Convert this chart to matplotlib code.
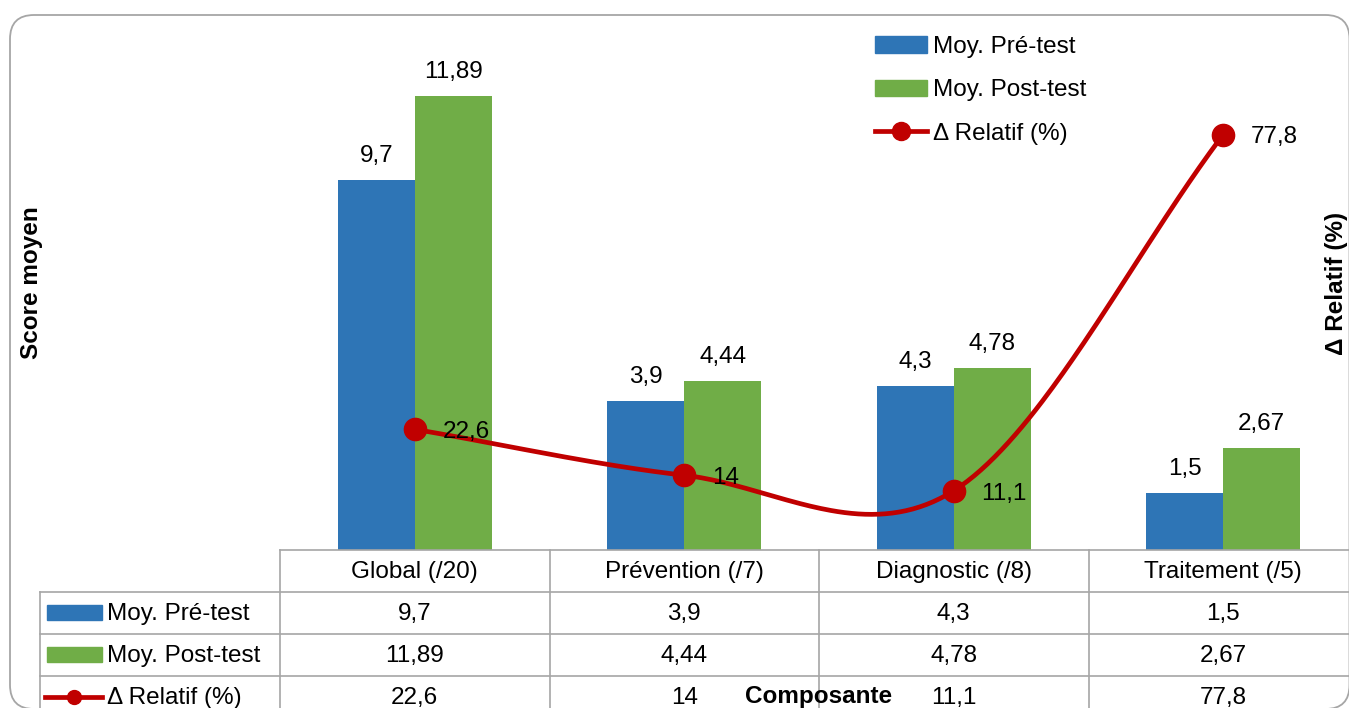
import numpy as np
import matplotlib.pyplot as plt
from matplotlib.patches import Patch, Rectangle, FancyBboxPatch
from matplotlib.lines import Line2D
from matplotlib.transforms import IdentityTransform

# Scores per component and relative gain
categories = ['Global (/20)', 'Prévention (/7)', 'Diagnostic (/8)', 'Traitement (/5)']
pre_test = [9.7, 3.9, 4.3, 1.5]
post_test = [11.89, 4.44, 4.78, 2.67]
delta_rel = [22.6, 14, 11.1, 77.8]
series_names = ['Moy. Pré-test', 'Moy. Post-test', 'Δ Relatif (%)']

BLUE = '#2E75B6'
GREEN = '#70AD47'
RED = '#C00000'
GRID = '#A6A6A6'
FS = 17.5

plt.rcParams['font.family'] = ['Liberation Sans', 'DejaVu Sans']


def fr(v):
    # french decimal comma
    return f'{v:g}'.replace('.', ',')


def smooth_line(y, n=80):
    # cardinal (catmull-rom) spline, one-sided tangents at the ends
    y = np.asarray(y, float)
    k = len(y)
    m = np.zeros(k)
    m[1:-1] = (y[2:] - y[:-2]) / 2
    m[0] = y[1] - y[0]
    m[-1] = y[-1] - y[-2]
    xs, ys = [], []
    for i in range(k - 1):
        t = np.linspace(0, 1, n)
        h00 = 2*t**3 - 3*t**2 + 1
        h10 = t**3 - 2*t**2 + t
        h01 = -2*t**3 + 3*t**2
        h11 = t**3 - t**2
        xs.append(i + t)
        ys.append(h00*y[i] + h10*m[i] + h01*y[i+1] + h11*m[i+1])
    return np.concatenate(xs), np.concatenate(ys)


W, H = 1349, 708
fig = plt.figure(figsize=(W/100, H/100), dpi=100)


def fx(x):
    return x / W


def fy(y):
    return 1 - y / H


# outer rounded frame (pixel coords)
frame = FancyBboxPatch((10, H - 709), 1339.5, 694, boxstyle='round,pad=0,rounding_size=24',
                       transform=IdentityTransform(), fill=False, ec=GRID, lw=1.3)
fig.add_artist(frame)

# plot area
left, right, top, bottom = 280, 1358, 16, 550
ax = fig.add_axes([fx(left), fy(bottom), (right - left)/W, (bottom - top)/H])
ax.set_xlim(-0.5, 3.5)
ax.set_ylim(0, 14)
ax.axis('off')

x = np.arange(len(categories))
bw = 0.2857
ax.bar(x - bw/2, pre_test, bw, color=BLUE, zorder=2)
ax.bar(x + bw/2, post_test, bw, color=GREEN, zorder=2)
for xi, v in zip(x, pre_test):
    ax.annotate(fr(v), (xi - bw/2, v), xytext=(0, 13), textcoords='offset points',
                ha='center', va='baseline', fontsize=FS)
for xi, v in zip(x, post_test):
    ax.annotate(fr(v), (xi + bw/2, v), xytext=(0, 13), textcoords='offset points',
                ha='center', va='baseline', fontsize=FS)

ax2 = ax.twinx()
ax2.set_ylim(0, 100)
ax2.axis('off')
sx, sy = smooth_line(delta_rel)
ax2.plot(sx, sy, color=RED, lw=3.4, solid_capstyle='round', zorder=3)
ax2.plot(x, delta_rel, 'o', color=RED, ms=16, zorder=4)
for xi, v in zip(x, delta_rel):
    ax2.annotate(fr(v), (xi, v), xytext=(20, -2), textcoords='offset points',
                 ha='left', va='center', fontsize=FS, zorder=5)

# legend
handles = [Patch(color=BLUE), Patch(color=GREEN),
           Line2D([], [], color=RED, lw=3.4, marker='o', ms=13)]
fig.legend(handles, series_names, loc='upper left', bbox_to_anchor=(fx(875), fy(36)),
           frameon=False, fontsize=FS, handlelength=2.15, handleheight=0.65,
           handletextpad=0.25, labelspacing=0.88, borderpad=0, borderaxespad=0)

# data table below the plot
col_edges = left + np.arange(len(categories) + 1) * (right - left) / len(categories)
row_edges = [550, 592, 634, 676, 718]
tab_left = 40


def hline(y, x0, x1):
    fig.add_artist(Line2D([fx(x0), fx(x1)], [fy(y), fy(y)], color=GRID, lw=1.2))


def vline(xp, y0, y1):
    fig.add_artist(Line2D([fx(xp), fx(xp)], [fy(y0), fy(y1)], color=GRID, lw=1.2))


hline(row_edges[0], left, right)
for y in row_edges[1:]:
    hline(y, tab_left, right)
vline(tab_left, row_edges[1], row_edges[-1])
for xe in col_edges:
    vline(xe, row_edges[0], row_edges[-1])

centers = (col_edges[:-1] + col_edges[1:]) / 2
row_mid = [(row_edges[i] + row_edges[i+1]) / 2 for i in range(4)]
for cx, cat in zip(centers, categories):
    fig.text(fx(cx), fy(row_mid[0] + 1), cat, ha='center', va='center', fontsize=FS)
for r, vals in enumerate([pre_test, post_test, delta_rel]):
    for cx, v in zip(centers, vals):
        fig.text(fx(cx), fy(row_mid[r+1] + 1), fr(v), ha='center', va='center', fontsize=FS)
    fig.text(fx(107), fy(row_mid[r+1] + 1), series_names[r], ha='left', va='center', fontsize=FS)

# row keys
for r, c in enumerate([BLUE, GREEN]):
    ym = row_mid[r+1]
    fig.add_artist(Rectangle((fx(47), fy(ym + 7)), (102 - 47)/W, 15/H, color=c))
ym = row_mid[3]
fig.add_artist(Line2D([fx(45), fx(102)], [fy(ym), fy(ym)], color=RED, lw=3.4))
fig.add_artist(Line2D([fx(73.5)], [fy(ym)], marker='o', color=RED, ms=10))

# axis titles
fig.text(fx(32), fy(283), 'Score moyen', rotation=90, ha='center', va='center',
         fontsize=FS, fontweight='bold')
fig.text(fx(1337), fy(283), 'Δ Relatif (%)', rotation=90, ha='center', va='center',
         fontsize=FS, fontweight='bold')
fig.text(fx(819), fy(697), 'Composante', ha='center', va='center',
         fontsize=FS, fontweight='bold', zorder=10)

fig.savefig('out.png', dpi=100)
